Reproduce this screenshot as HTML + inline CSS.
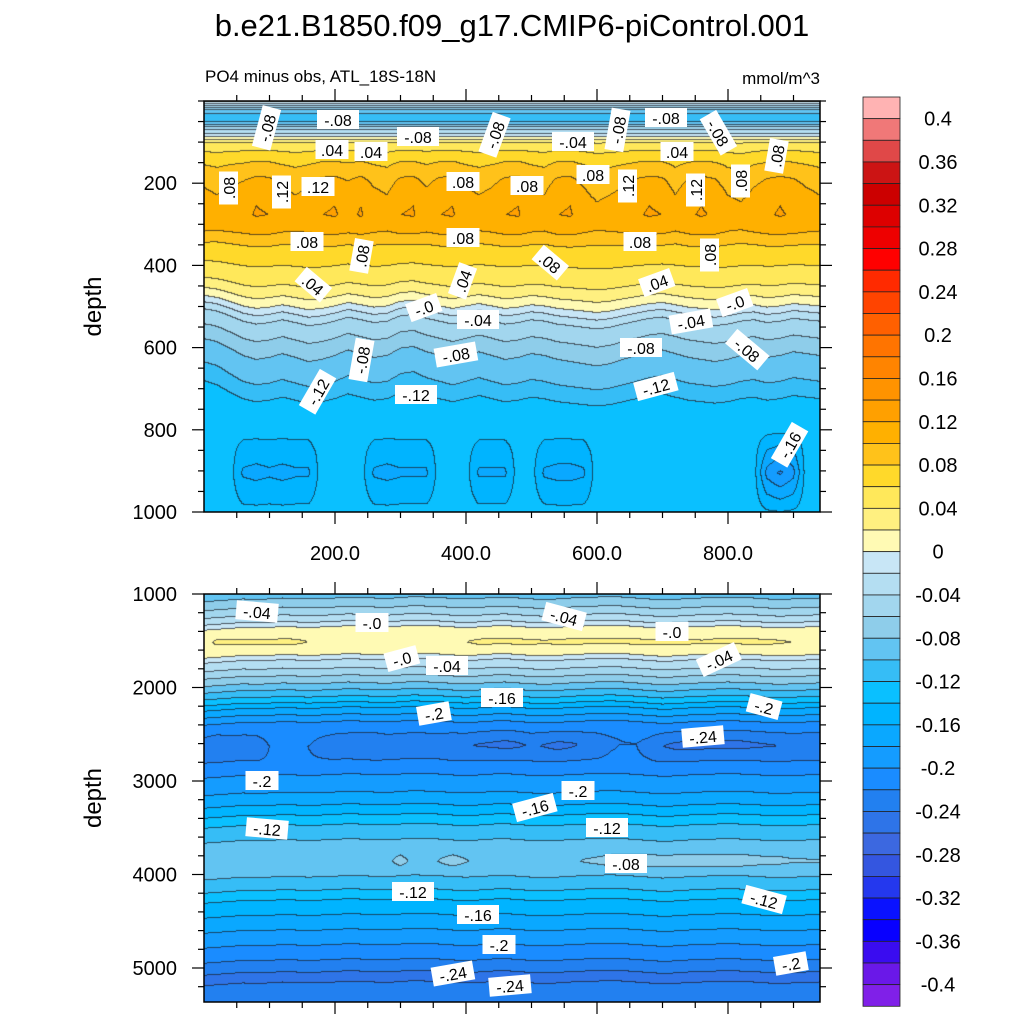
<!DOCTYPE html>
<html><head><meta charset="utf-8">
<style>
html,body{margin:0;padding:0;background:#fff;width:1024px;height:1024px;overflow:hidden}
#wrap{position:relative;width:1024px;height:1024px;font-family:"Liberation Sans",sans-serif}
canvas,svg{position:absolute;left:0;top:0}
</style></head>
<body>
<div id="wrap">
<canvas id="cv" width="1024" height="1024"></canvas>
<svg id="sv" width="1024" height="1024" xmlns="http://www.w3.org/2000/svg"></svg>
</div>
<script>
// ---- data ----
const topDepth=[0,7,22,34,51,71,88,102,124,156,192,241,277,309,333,358,387,411,436,453,472,489,504,518,530,547,582,611,642,674,708,727,776,849,1000];
const topVal=[0.01,-0.02,-0.08,-0.105,-0.10,-0.04,0.0,0.04,0.06,0.08,0.095,0.108,0.113,0.108,0.09,0.075,0.065,0.055,0.045,0.035,0.02,0.005,-0.01,-0.03,-0.04,-0.05,-0.065,-0.08,-0.09,-0.10,-0.115,-0.125,-0.13,-0.132,-0.13];
const botDepth=[1000,1064,1171,1246,1299,1342,1406,1500,1599,1652,1706,1759,1834,1920,2027,2134,2219,2294,2369,2455,2615,2775,2882,3043,3203,3364,3471,3631,3791,3952,4059,4166,4273,4433,4594,4754,4914,5075,5235,5364];
const botVal=[-0.095,-0.075,-0.055,-0.035,-0.02,-0.002,0.01,0.012,0.008,0.0,-0.02,-0.03,-0.05,-0.07,-0.10,-0.13,-0.16,-0.18,-0.20,-0.215,-0.232,-0.22,-0.205,-0.19,-0.17,-0.14,-0.12,-0.10,-0.088,-0.09,-0.105,-0.12,-0.14,-0.16,-0.18,-0.20,-0.22,-0.245,-0.235,-0.225];
const stationX=[0,20,40,60,80,100,120,140,160,180,200,220,240,260,280,300,320,340,360,380,400,420,440,460,480,500,520,540,560,580,600,620,640,660,680,700,720,740,760,780,800,820,840,860,880,900,920,940];
const topAnom=[0,-0.005,0,0.005,0.012,0.01,0,-0.005,0,0.01,0.012,0.005,0.012,0,-0.005,0.01,0.012,0,0.01,0.012,0,-0.005,0,0.01,0.012,0,-0.005,0.01,0.012,0,-0.01,-0.005,0,0.008,0.012,0.01,-0.005,0.008,0.012,0.008,-0.005,-0.01,0,0.008,0.012,0.008,0,-0.005];
const topShift=[40,30,10,-10,-20,-15,-5,-15,-25,-20,-10,5,-5,-15,-10,10,15,0,-10,-20,-10,0,-10,-20,-15,-5,-10,-20,-25,-30,-35,-30,-20,-10,0,5,-5,-15,-20,-25,-20,-10,-5,-15,-10,0,-5,-10];
const deepAnom=[0,0,0,-0.02,-0.022,-0.02,-0.022,-0.02,-0.02,0,0,0,0,-0.02,-0.022,-0.02,-0.02,-0.02,0,0,0,-0.02,-0.02,-0.02,0,0,-0.02,-0.022,-0.022,-0.02,0,0,0,0,0,0,0,0,0,0,0,0,0,-0.035,-0.045,-0.035,0,0];
const pocketAnom=[0,0.012,0.012,0.012,0.012,0.012,0.012,0.012,0.008,0,0,0,0,0,0,0,0,0,0.008,0.008,0.008,0.012,0.012,0.012,0.012,0.012,0.01,0.012,0.012,0.012,0.012,0.012,0.012,0.012,0.012,0.012,0.012,0.012,0.01,0.012,0.012,0.012,0.012,0.012,0.01,0.008,0,0];
const darkAnom=[0,-0.005,0,0,0,0.012,0.015,0.015,0.012,0.005,0,0,-0.005,-0.005,0,0,0,0,0,-0.005,-0.005,-0.01,-0.012,-0.015,-0.012,-0.005,-0.01,-0.015,-0.012,-0.005,0,0.008,0.012,0.012,0.005,-0.008,-0.014,-0.015,-0.015,-0.014,-0.015,-0.015,-0.012,-0.01,-0.008,-0.005,-0.005,-0.005];
const botShift=[-40,-30,-20,-10,-15,-10,0,-5,-10,-5,0,10,5,0,-5,5,15,10,5,-5,-10,-5,5,10,0,-10,-15,-10,0,5,10,15,10,0,-10,-20,-15,-5,0,5,10,5,0,-10,-15,-10,-5,0];
const midAnom=[0,0,0,0,0,0,0,0,0,0,0,0,0,0,0.005,0.015,0.005,0,0.01,0.015,0.01,0.005,0,0,0,0,0.005,0.008,0.005,0.01,0.012,0.015,0.016,0.016,0.016,0.016,0.016,0.016,0.016,0.016,0.016,0.016,0.014,0.012,0.012,0.01,0.01,0.01];
const warmColors=["#fffab4","#fff080","#ffe85a","#ffd92a","#ffc21a","#ffb000","#ffa000","#ff9300","#ff8400","#ff7400","#ff6000","#ff4400","#ff2a00","#ff0000","#ee0000","#dd0000","#cc0000","#cc1414","#e04848","#f07878","#ffb3b3"];
const coldColors=["#c8e6f6","#b4def2","#a2d6ee","#8ecdea","#62c4f2","#36bdf6","#0ac0ff","#00b4ff","#0aa8ff","#149cff","#1a8cff","#2280f0","#2e74e8","#3c68e0","#3456e0","#2438ee","#0a12ff","#0800ff","#3a0cf0","#6a18e8","#8020e8"];
const cbLabels=["0.4","0.36","0.32","0.28","0.24","0.2","0.16","0.12","0.08","0.04","0","-0.04","-0.08","-0.12","-0.16","-0.2","-0.24","-0.28","-0.32","-0.36","-0.4"];
const xTicks=[200,400,600,800];
const topYTicks=[200,400,600,800,1000];
const botYTicks=[1000,2000,3000,4000,5000];
const topLabels=[[267,128,"-.08",-75],[338,120,"-.08",0],[418,137,"-.08",0],[495,135,"-.08",-70],[573,142,"-.04",0],[618,130,"-.08",-80],[666,118,"-.08",0],[718,133,"-.08",60],[777,156,".08",-80],[332,150,".04",0],[371,152,".04",0],[677,152,".04",0],[229,188,".08",-90],[282,192,".12",-90],[318,187,".12",0],[463,182,".08",0],[527,186,".08",0],[593,175,".08",0],[628,186,".12",-90],[696,190,".12",-90],[741,181,".08",-90],[307,242,".08",0],[362,256,".08",-80],[463,238,".08",0],[550,263,".08",40],[640,242,".08",0],[710,255,".08",-90],[313,285,".04",40],[463,281,".04",-70],[657,283,".04",-20],[424,308,"-.0",-20],[735,303,"-.0",-20],[478,320,"-.04",0],[691,322,"-.04",-10],[362,360,"-.08",-80],[456,355,"-.08",-10],[641,348,"-.08",0],[747,350,"-.08",40],[318,392,"-.12",-60],[416,395,"-.12",0],[656,387,"-.12",-15],[790,445,"-.16",-60]];
const botLabels=[[257,612,"-.04",5],[372,623,"-.0",0],[564,617,"-.04",15],[672,632,"-.0",0],[402,659,"-.0",-15],[447,666,"-.04",0],[719,660,"-.04",-25],[502,698,"-.16",0],[434,714,"-.2",-10],[764,707,"-.2",15],[703,737,"-.24",-5],[262,781,"-.2",0],[578,791,"-.2",0],[535,808,"-.16",-15],[267,829,"-.12",5],[607,828,"-.12",0],[626,864,"-.08",0],[413,892,"-.12",0],[478,915,"-.16",0],[499,945,"-.2",0],[453,974,"-.24",-10],[764,900,"-.12",15],[791,964,"-.2",-10],[510,986,"-.24",-5]];

// ---- geometry / axis functions ----
const PX0=204, PX1=820;
const xScale=u=>PX0+u*0.655, xInv=px=>(px-PX0)/0.655;
const topY=d=>101+d*0.411, topInv=y=>(y-101)/0.411;
const botY=d=>594+(d-1000)*0.0935, botInv=y=>1000+(y-594)/0.0935;
const cbTop=97, cbBox=21.65;

function interp(xs,ys,x){
  if(x<=xs[0])return ys[0];
  for(let i=1;i<xs.length;i++){ if(x<=xs[i]){const t=(x-xs[i-1])/(xs[i]-xs[i-1]);return ys[i-1]+t*(ys[i]-ys[i-1]);} }
  return ys[ys.length-1];
}
const tri=(d,c,h)=>Math.max(0,1-Math.abs(d-c)/h);
function colorFor(v){const k=Math.floor(v/0.02+1e-9);if(k>=0)return warmColors[Math.min(k,20)];return coldColors[Math.min(-k-1,20)];}
function levelOf(v){return Math.floor(v/0.02+1e-9);}
function topField(u,d){
  const sh=interp(stationX,topShift,u)*tri(d,650,350);
  let v=interp(topDepth,topVal,d+sh);
  v+=interp(stationX,topAnom,u)*tri(d,230,150);
  v+=interp(stationX,deepAnom,u)*tri(d,905,110)*1.6;
  return v;
}
function botField(u,d){
  const sh=interp(stationX,botShift,u);
  let v=interp(botDepth,botVal,d+sh);
  v+=interp(stationX,pocketAnom,u)*tri(d,1520,110);
  v+=interp(stationX,darkAnom,u)*tri(d,2620,200);
  v+=interp(stationX,midAnom,u)*tri(d,3860,140);
  return v;
}
function hex(c){return [parseInt(c.substr(1,2),16),parseInt(c.substr(3,2),16),parseInt(c.substr(5,2),16)];}

const ctx=document.getElementById('cv').getContext('2d');
function drawPanel(y0,y1,inv,field){
  const W=PX1-PX0, H=y1-y0;
  const img=ctx.createImageData(W,H);
  const lev=new Int16Array(W*H), vals=new Float32Array(W*H);
  for(let j=0;j<H;j++){const d=inv(y0+j+0.5);
    for(let i=0;i<W;i++){const v=field(xInv(PX0+i+0.5),d);vals[j*W+i]=v;lev[j*W+i]=levelOf(v);}}
  for(let j=0;j<H;j++)for(let i=0;i<W;i++){
    const idx=j*W+i;let c=hex(colorFor(vals[idx]));
    const L=lev[idx];
    if((i+1<W&&lev[idx+1]!==L)||(j+1<H&&lev[idx+W]!==L)) c=[c[0]*0.3+20,c[1]*0.3+20,c[2]*0.3+25];
    img.data[idx*4]=c[0];img.data[idx*4+1]=c[1];img.data[idx*4+2]=c[2];img.data[idx*4+3]=255;}
  ctx.putImageData(img,PX0,y0);
}
drawPanel(101,512,topInv,topField);
drawPanel(594,1002,botInv,botField);

// ---- SVG overlay ----
const NS="http://www.w3.org/2000/svg", sv=document.getElementById('sv');
function mk(tag,attrs,parent){const e=document.createElementNS(NS,tag);for(const k in attrs)e.setAttribute(k,attrs[k]);(parent||sv).appendChild(e);return e;}
function txt(x,y,s,size,anchor,parent){const t=mk('text',{x:x,y:y,'font-size':size,'text-anchor':anchor||'middle','font-family':'Liberation Sans, sans-serif',fill:'#000'},parent);t.textContent=s;return t;}

let t=txt(512,36,"b.e21.B1850.f09_g17.CMIP6-piControl.001",31);


t=txt(205,82,"PO4 minus obs, ATL_18S-18N",17,'start');


t=txt(820,84,"mmol/m^3",17,'end');



function contourLabels(list,name){
  const g=mk('g',{});
  
  
  list.forEach(l=>{
    const gg=mk('g',{transform:`translate(${l[0]},${l[1]}) rotate(${l[3]})`},g);
    
    
    const w=l[2].length*9+6;
    mk('rect',{x:-w/2,y:-10,width:w,height:19,fill:'#fff'},gg);
    txt(0,6,l[2],16,'middle',gg);
  });
}
contourLabels(topLabels,'top-contour-labels');
contourLabels(botLabels,'bottom-contour-labels');

function axes(y0,y1,yfun,yTicks,minorStep,yMin,yMax,name,labelX){
  const g=mk('g',{});
  
  
  mk('rect',{x:PX0,y:y0,width:PX1-PX0,height:y1-y0,fill:'none',stroke:'#000','stroke-width':1.5},g);
  for(let u=50;u<=940;u+=50){const x=xScale(u),maj=u%200===0,L=maj?12:6;
    mk('line',{x1:x,y1:y1,x2:x,y2:y1+L,stroke:'#000','stroke-width':1.2},g);
    mk('line',{x1:x,y1:y0,x2:x,y2:y0-L,stroke:'#000','stroke-width':1.2},g);}
  for(let d=yMin;d<=yMax;d+=minorStep){const y=yfun(d);if(y<y0-1||y>y1+1)continue;const maj=yTicks.includes(d),L=maj?12:6;
    mk('line',{x1:PX0,y1:y,x2:PX0-L,y2:y,stroke:'#000','stroke-width':1.2},g);
    mk('line',{x1:PX1,y1:y,x2:PX1+L,y2:y,stroke:'#000','stroke-width':1.2},g);}
  yTicks.forEach(d=>{const tl=txt(177,yfun(d)+7,String(d),20,'end',g);
    
    });
  const at=txt(0,0,"depth",24,'middle',g);
  at.setAttribute('transform',`translate(${labelX},${(y0+y1)/2}) rotate(-90)`);
  
  
}
axes(101,512,topY,topYTicks,50,0,1000,'top-panel-axes',101);
axes(594,1002,botY,botYTicks,200,1000,5400,'bottom-panel-axes',101);
xTicks.forEach(u=>{const tl=txt(xScale(u),560,u.toFixed(1),20,'middle');
  
  });

// colorbar
const cb=mk('g',{});


const allBoxes=warmColors.slice().reverse().concat(coldColors);
allBoxes.forEach((c,i)=>{const r=mk('rect',{x:863,y:cbTop+i*cbBox,width:37,height:cbBox,fill:c,stroke:'#222','stroke-width':0.8},cb);
  
  });
cbLabels.forEach((s,i)=>{const tl=txt(938,cbTop+(1+2*i)*cbBox+7,s,20,'middle',cb);
  
  });
</script>
</body></html>
